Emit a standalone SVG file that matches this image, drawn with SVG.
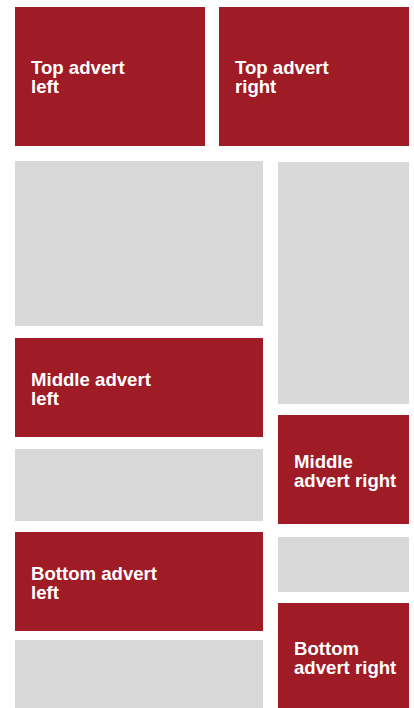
<svg xmlns="http://www.w3.org/2000/svg" width="414" height="708" viewBox="0 0 414 708">
<style>
.ad{fill:#9F1B26}
.sp{fill:#D9D9D9}
text{font-family:"Liberation Sans",Arial,sans-serif;font-weight:bold;font-size:18.6px;fill:#FFFFFF}
</style>
<rect width="414" height="708" fill="#FFFFFF"/>
<g id="top-advert-left"><rect class="ad" x="15" y="7" width="190" height="139"/><text x="31" y="74">Top advert<tspan x="31" y="93">left</tspan></text></g>
<g id="top-advert-right"><rect class="ad" x="219" y="7" width="190" height="139"/><text x="235" y="74">Top advert<tspan x="235" y="93">right</tspan></text></g>
<g id="content-1"><rect class="sp" x="15" y="161" width="248" height="165"/></g>
<g id="content-right-1"><rect class="sp" x="278" y="162" width="131" height="242"/></g>
<g id="middle-advert-left"><rect class="ad" x="15" y="338" width="248" height="99"/><text x="31" y="386">Middle advert<tspan x="31" y="405">left</tspan></text></g>
<g id="middle-advert-right"><rect class="ad" x="278" y="415" width="131" height="109"/><text x="294" y="468">Middle<tspan x="294" y="487">advert right</tspan></text></g>
<g id="content-2"><rect class="sp" x="15" y="449" width="248" height="72"/></g>
<g id="bottom-advert-left"><rect class="ad" x="15" y="532" width="248" height="99"/><text x="31" y="580">Bottom advert<tspan x="31" y="599">left</tspan></text></g>
<g id="content-right-2"><rect class="sp" x="278" y="537" width="131" height="55"/></g>
<g id="bottom-advert-right"><rect class="ad" x="278" y="603" width="131" height="105"/><text x="294" y="655">Bottom<tspan x="294" y="674">advert right</tspan></text></g>
<g id="content-3"><rect class="sp" x="15" y="640" width="248" height="68"/></g>
<g id="connectors"></g>
</svg>
